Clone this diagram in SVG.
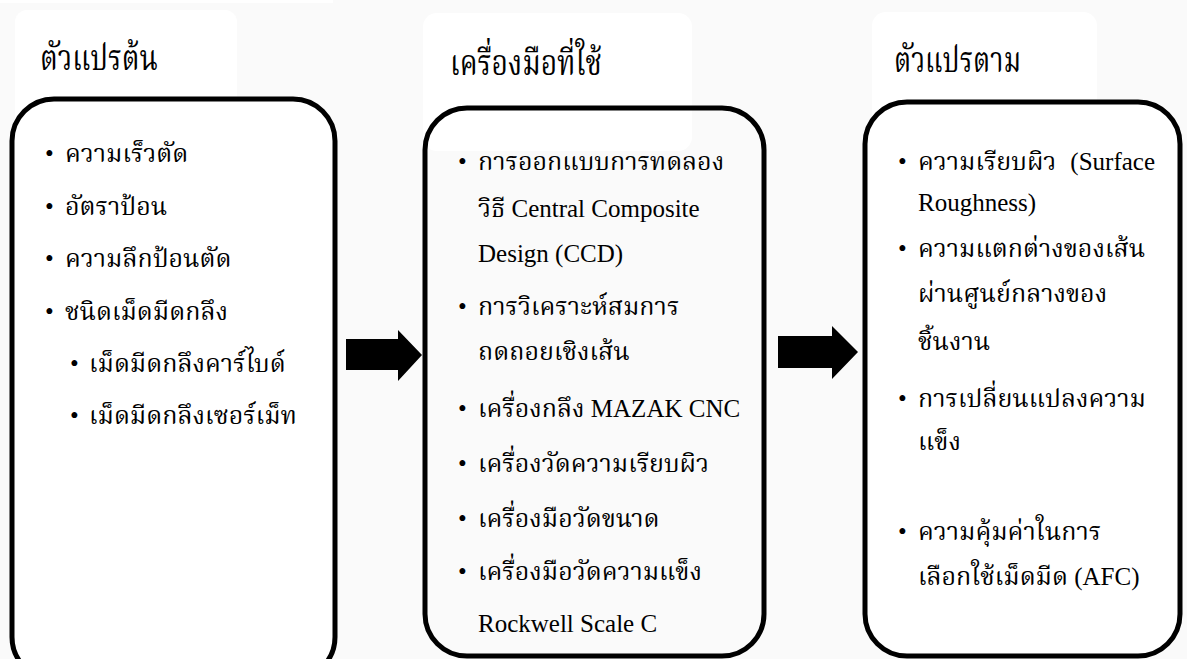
<svg xmlns="http://www.w3.org/2000/svg" width="1187" height="659" viewBox="0 0 1187 659">
<style>
.t{font-family:"Liberation Serif","Kinnari","Norasi","Laksaman","Noto Serif Thai","Noto Sans Thai","Loma","Garuda",serif;fill:#000}
.title{font-size:35px}
.body{font-size:25px}
.box{stroke:#000;stroke-width:5}
.tb{fill:#fff}
</style>
<rect x="0" y="0" width="1187" height="659" fill="#fafafa"/>
<rect x="0" y="0" width="333" height="3" fill="#fff"/>
<g id="node-independent">
<rect class="tb" x="15" y="10" width="222" height="140" rx="12"/>
<text class="t title" x="40" y="70" textLength="118" lengthAdjust="spacingAndGlyphs">ตัวแปรต้น</text>
<rect class="box" x="12" y="99" width="323" height="580" rx="42" fill="#fff"/>
<g class="t body">
<text x="45" y="162">•</text><text x="65" y="162">ความเร็วตัด</text>
<text x="45" y="215">•</text><text x="65" y="215">อัตราป้อน</text>
<text x="45" y="267">•</text><text x="65" y="267">ความลึกป้อนตัด</text>
<text x="45" y="320">•</text><text x="65" y="320">ชนิดเม็ดมีดกลึง</text>
<text x="70" y="372">•</text><text x="89" y="372">เม็ดมีดกลึงคาร์ไบด์</text>
<text x="70" y="424">•</text><text x="89" y="424">เม็ดมีดกลึงเซอร์เม็ท</text>
</g>
</g>
<g id="node-tools">
<rect class="tb" x="423" y="13" width="269" height="138" rx="14"/>
<text class="t title" x="450" y="75" textLength="152" lengthAdjust="spacingAndGlyphs">เครื่องมือที่ใช้</text>
<rect class="box" x="425" y="108" width="339" height="548" rx="42" fill="none"/>
<g class="t body">
<text x="458" y="170">•</text><text x="478" y="170">การออกแบบการทดลอง</text>
<text x="478" y="217">วิธี Central Composite</text>
<text x="478" y="262">Design (CCD)</text>
<text x="458" y="315">•</text><text x="478" y="315">การวิเคราะห์สมการ</text>
<text x="478" y="360">ถดถอยเชิงเส้น</text>
<text x="458" y="417">•</text><text x="478" y="417">เครื่องกลึง MAZAK CNC</text>
<text x="458" y="472">•</text><text x="478" y="472">เครื่องวัดความเรียบผิว</text>
<text x="458" y="527">•</text><text x="478" y="527">เครื่องมือวัดขนาด</text>
<text x="458" y="580">•</text><text x="478" y="580">เครื่องมือวัดความแข็ง</text>
<text x="478" y="632">Rockwell Scale C</text>
</g>
</g>
<g id="node-dependent">
<rect class="tb" x="872" y="12" width="225" height="140" rx="14"/>
<text class="t title" x="894" y="72" textLength="127" lengthAdjust="spacingAndGlyphs">ตัวแปรตาม</text>
<rect class="box" x="865" y="102" width="315" height="554" rx="42" fill="#fff"/>
<g class="t body">
<text x="898" y="170">•</text><text x="918" y="170">ความเรียบผิว</text><text x="1155" y="170" text-anchor="end">(Surface</text>
<text x="918" y="211">Roughness)</text>
<text x="898" y="257">•</text><text x="918" y="257">ความแตกต่างของเส้น</text>
<text x="918" y="302">ผ่านศูนย์กลางของ</text>
<text x="918" y="350">ชิ้นงาน</text>
<text x="898" y="407">•</text><text x="918" y="407">การเปลี่ยนแปลงความ</text>
<text x="918" y="450">แข็ง</text>
<text x="898" y="540">•</text><text x="918" y="540">ความคุ้มค่าในการ</text>
<text x="918" y="585">เลือกใช้เม็ดมีด (AFC)</text>
</g>
</g>
<g id="connectors" fill="#000">
<polygon points="346,339 398,339 398,330 422,355 398,381 398,370 346,370"/>
<polygon points="778,336 832,336 832,326 858,352 832,379 832,368 778,368"/>
</g>
</svg>
